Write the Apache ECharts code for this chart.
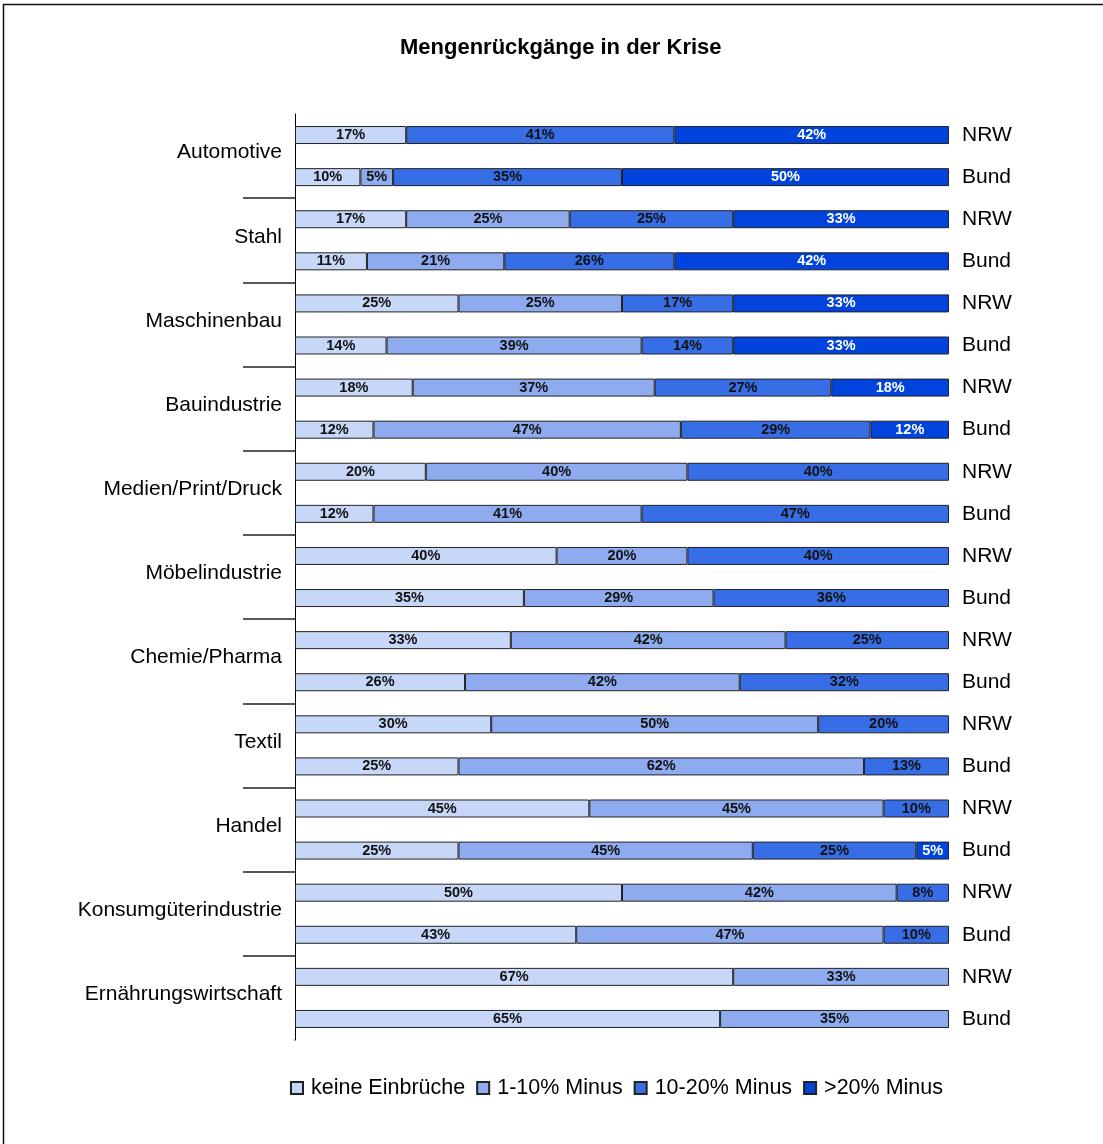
<!DOCTYPE html>
<html><head><meta charset="utf-8">
<script src="https://cdn.jsdelivr.net/npm/echarts@6/dist/echarts.min.js"></script>
<style>html,body{margin:0;padding:0;background:#fff}#c{width:1103px;height:1144px}</style>
</head><body><div id="c"></div>
<script>
const sectors = ["Automotive","Stahl","Maschinenbau","Bauindustrie","Medien/Print/Druck","Möbelindustrie","Chemie/Pharma","Textil","Handel","Konsumgüterindustrie","Ernährungswirtschaft"];
const regions = ["NRW","Bund"];
const seriesNames = ["keine Einbrüche","1-10% Minus","10-20% Minus",">20% Minus"];
const keine     = [17,10,17,11,25,14,18,12,20,12,40,35,33,26,30,25,45,25,50,43,67,65];
const minus1_10 = [0,5,25,21,25,39,37,47,40,41,20,29,42,42,50,62,45,45,42,47,33,35];
const minus10_20= [41,35,25,26,17,14,27,29,40,47,40,36,25,32,20,13,10,25,8,10,0,0];
const minus20   = [42,50,33,42,33,33,18,12,0,0,0,0,0,0,0,0,0,5,0,0,0,0];
const colors = ["#c6d7f7","#8eabef","#376ee6","#0044dd"];

const rowLabels = [];
sectors.forEach(() => regions.forEach(r => rowLabels.push(r)));
const FONT = "'Liberation Sans', Arial, sans-serif";
const vals = [keine, minus1_10, minus10_20, minus20];

const chart = echarts.init(document.getElementById('c'));
chart.setOption({
  animation: false,
  textStyle: {fontFamily: FONT},
  graphic: [
    {type:'rect', shape:{x:3.5,y:4.5,width:1110,height:1150}, style:{fill:'none',stroke:'#111',lineWidth:1.5}, silent:true},
    {type:'rect', shape:{x:238,y:1037,width:56.5,height:7}, style:{fill:'#fff'}, silent:true, z:100}
  ],
  title: {text: "Mengenrückgänge in der Krise", left: 395, top: 32,
    textStyle: {fontFamily: FONT, fontSize: 22, fontWeight: 'bold', color: '#000'}},
  legend: {left: 285, top: 1072, itemWidth: 12, itemHeight: 12, itemGap: 11,
    icon: 'rect',
    textStyle: {fontFamily: FONT, fontSize: 21.5, color: '#000', padding:[0,0,0,3]},
    data: seriesNames},
  grid: {left: 295, right: 154, top: 114, bottom: 104, containLabel: false},
  xAxis: {type: 'value', min: 0, max: 100, show: false},
  yAxis: [
    {type: 'category', data: sectors, inverse: true, position: 'left',
     axisLine: {show: true, lineStyle: {color: '#000', width: 1}},
     axisTick: {show: true, length: 52, lineStyle: {color: '#222', width: 1.5},
       interval: function(i){ return i > 0; }},
     axisLabel: {margin: 13, formatter: v => '{a|' + v + '}',
       rich: {a: {fontFamily: FONT, fontSize: 21, color: '#000', padding: [0,0,7,0]}}}},
    {type: 'category', data: rowLabels, inverse: true, position: 'right',
     axisLine: {show: false}, axisTick: {show: false},
     axisLabel: {fontFamily: FONT, fontSize: 21, color: '#000', margin: 13, interval: 0}}
  ],
  series: seriesNames.map((name, k) => ({
    name: name, type: 'bar', stack: 'total', yAxisIndex: 1, barWidth: 18,
    itemStyle: {color: colors[k], borderColor: '#222', borderWidth: 1},
    label: {show: true, position: 'inside', fontFamily: FONT, fontSize: 14.5, fontWeight: 'bold',
      color: k === 3 ? '#fff' : '#111', formatter: p => p.value + '%'},
    data: vals[k].map(v => v === 0 ? '-' : v)
  }))
});
</script></body></html>
